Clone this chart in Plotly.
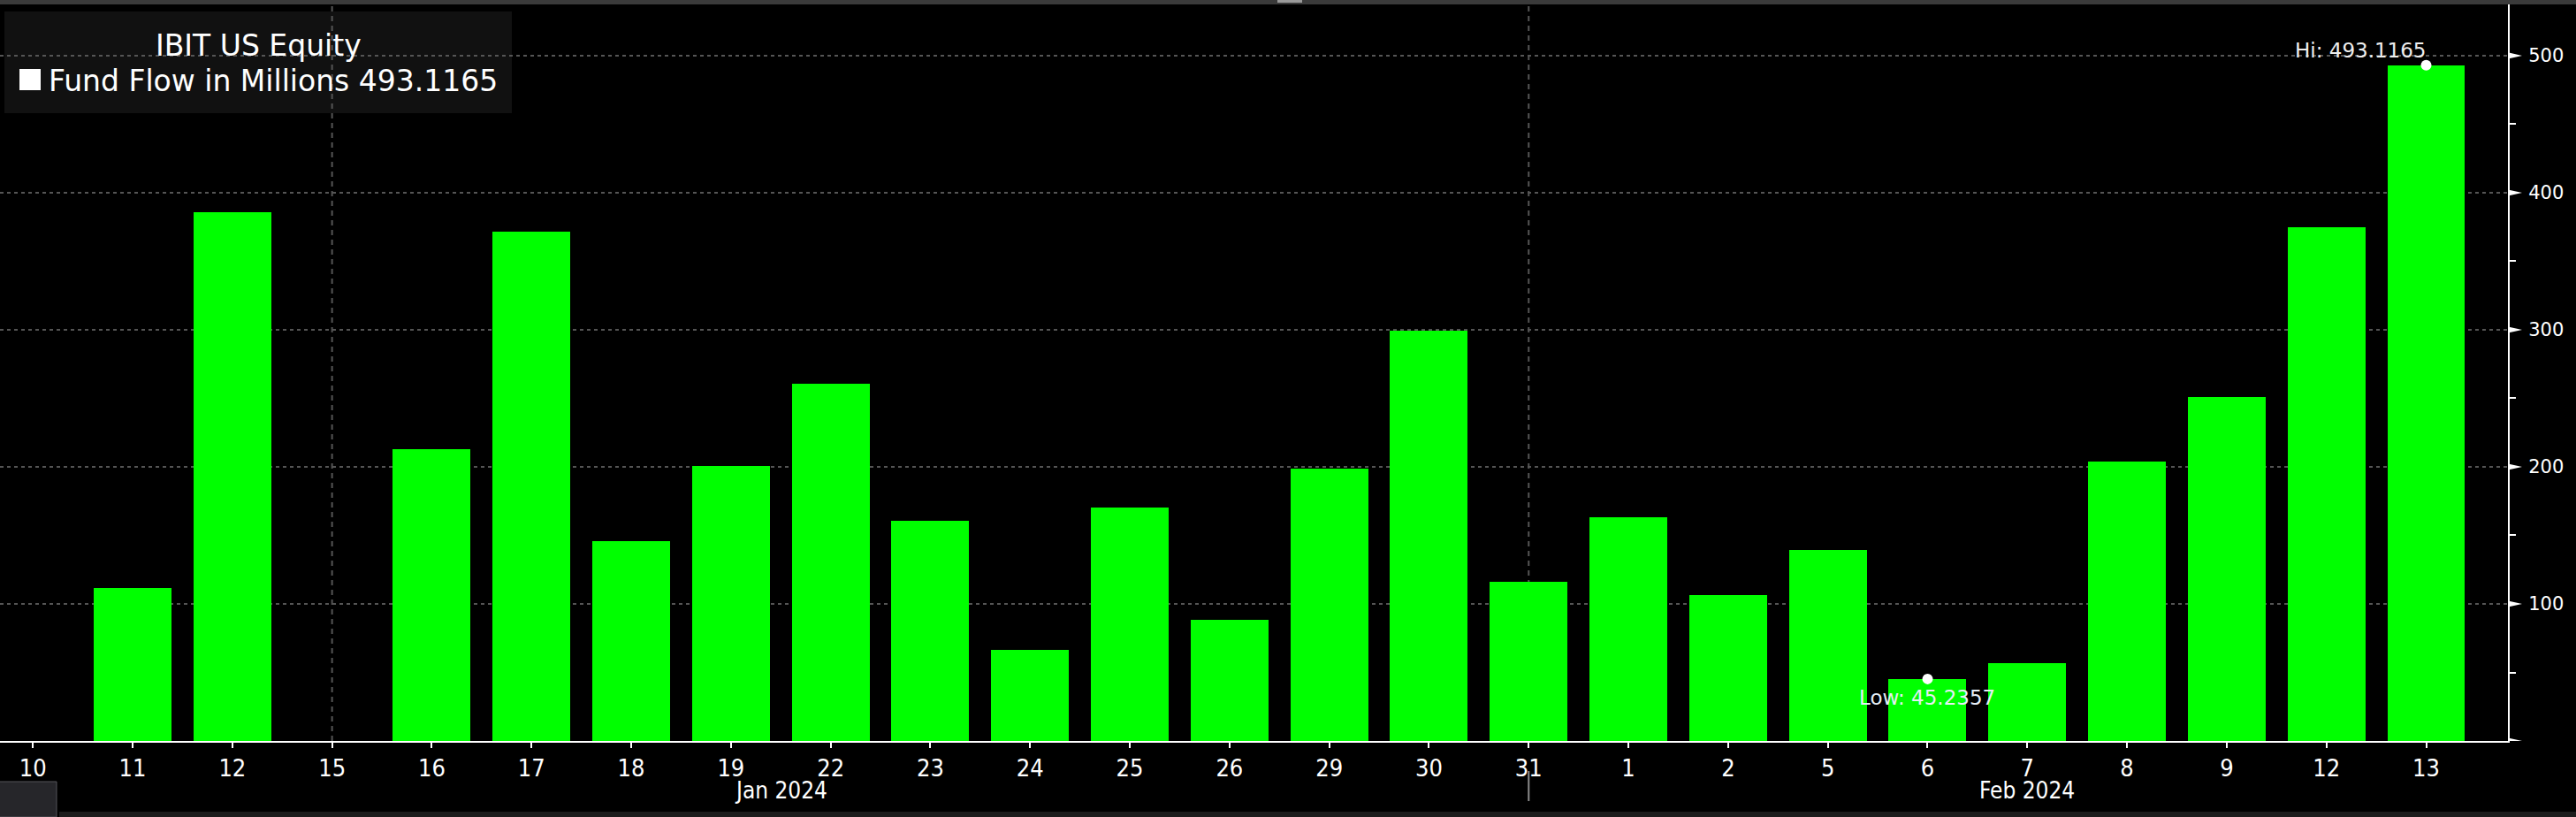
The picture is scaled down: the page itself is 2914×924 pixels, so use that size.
import plotly.graph_objects as go

# ---------------- data ----------------
dates = ["2024-01-10", "2024-01-11", "2024-01-12", "2024-01-15", "2024-01-16",
         "2024-01-17", "2024-01-18", "2024-01-19", "2024-01-22", "2024-01-23",
         "2024-01-24", "2024-01-25", "2024-01-26", "2024-01-29", "2024-01-30",
         "2024-01-31", "2024-02-01", "2024-02-02", "2024-02-05", "2024-02-06",
         "2024-02-07", "2024-02-08", "2024-02-09", "2024-02-12", "2024-02-13"]
tick_labels = ["10", "11", "12", "15", "16", "17", "18", "19", "22", "23", "24", "25",
               "26", "29", "30", "31", "1", "2", "5", "6", "7", "8", "9", "12", "13"]
flows = [None, 111.7, 386.0, None, 212.8, 371.9, 145.6, 200.8, 260.8, 160.5,
         66.3, 170.5, 88.2, 198.8, 299.5, 116.4, 163.3, 106.3, 139.4, 45.2357,
         56.8, 204.1, 251.2, 374.7, 493.1165]
months = ["Jan 2024", "Feb 2024"]
month_keys = ["2024-01", "2024-02"]
y_ticks = [100, 200, 300, 400, 500]
y_minor = [50, 150, 250, 350, 450]
grid_dates = ["2024-01-15", "2024-01-31"]
series_title = "IBIT US Equity"
series_name = "Fund Flow in Millions"

# ---------------- geometry helpers ----------------
W, H = 2914, 924
ML, MR, MT, MB = 0, 77, 5, 86
PW, PH = W - ML - MR, H - MT - MB
Y_TOP = 537.4
NARROW = "Liberation Sans Narrow, Arial Narrow, DejaVu Sans Condensed, sans-serif"


def px_x(p):
    return (p - ML) / PW


def px_y(p):
    return (H - MB - p) / PH


idx = list(range(len(dates)))
valid = [(i, v) for i, v in zip(idx, flows) if v is not None]
hi_i, hi_v = max(valid, key=lambda t: t[1])
lo_i, lo_v = min(valid, key=lambda t: t[1])
last_v = valid[-1][1]

fig = go.Figure()
fig.add_trace(go.Bar(x=idx, y=flows, marker=dict(color="#00ff00", line=dict(width=0)),
                     width=0.78, showlegend=False, hoverinfo="y"))
fig.add_trace(go.Scatter(x=[hi_i, lo_i], y=[hi_v, lo_v], mode="markers",
                         marker=dict(color="white", size=12), showlegend=False,
                         hoverinfo="skip"))

shapes = []
# top & bottom window strips
shapes.append(dict(type="rect", xref="paper", yref="paper", x0=px_x(0), x1=px_x(W),
                   y0=px_y(5), y1=px_y(0), fillcolor="#3a3a3a", line=dict(width=0)))
shapes.append(dict(type="rect", xref="paper", yref="paper", x0=px_x(1445), x1=px_x(1473),
                   y0=px_y(3), y1=px_y(0), fillcolor="#9a9a9a", line=dict(width=0)))
shapes.append(dict(type="rect", xref="paper", yref="paper", x0=px_x(67), x1=px_x(W),
                   y0=px_y(924), y1=px_y(918), fillcolor="#1c1c1c", line=dict(width=0)))
shapes.append(dict(type="rect", xref="paper", yref="paper", x0=px_x(-5), x1=px_x(64),
                   y0=px_y(924), y1=px_y(884), fillcolor="#26262a",
                   line=dict(color="#55555a", width=1)))
# legend box
shapes.append(dict(type="rect", xref="paper", yref="paper", x0=px_x(5), x1=px_x(579),
                   y0=px_y(128), y1=px_y(13), fillcolor="#111111", line=dict(width=0),
                   layer="below"))
shapes.append(dict(type="rect", xref="paper", yref="paper", x0=px_x(22), x1=px_x(46),
                   y0=px_y(102), y1=px_y(78), fillcolor="white", line=dict(width=0)))
# vertical dashed gridlines
for d in grid_dates:
    gx = dates.index(d)
    shapes.append(dict(type="line", xref="x", yref="paper", x0=gx, x1=gx, y0=0, y1=1,
                       line=dict(color="#555555", width=2, dash="6px,5px"), layer="below"))
# month separator below axis (last day of first month)
sep = max(i for i, d in enumerate(dates) if d.startswith(month_keys[0]))
shapes.append(dict(type="line", xref="x", yref="paper", x0=sep, x1=sep,
                   y0=px_y(872), y1=px_y(906), line=dict(color="#8a8a8a", width=2)))
# y-axis triangle ticks
dy = 3.6 * Y_TOP / PH
for v in [0] + y_ticks:
    shapes.append(dict(type="path", xref="paper", yref="y",
                       path=f"M 1,{v + dy} L {1 + 16 / PW},{v} L 1,{v - dy} Z",
                       fillcolor="white", line=dict(width=0)))

annotations = []
annotations.append(dict(xref="paper", yref="paper", x=px_x(292), y=px_y(51),
                        text=series_title, showarrow=False, xanchor="center",
                        yanchor="middle", font=dict(family="DejaVu Sans", size=33, color="white")))
annotations.append(dict(xref="paper", yref="paper", x=px_x(53), y=px_y(91),
                        text=f"{series_name} {last_v:.4f}", showarrow=False, xanchor="left",
                        yanchor="middle", font=dict(family="DejaVu Sans", size=33, color="white")))
annotations.append(dict(xref="x", yref="y", x=hi_i, y=hi_v, text=f"Hi: {hi_v:.4f}",
                        showarrow=False, xanchor="right", yanchor="bottom", xshift=2, yshift=2,
                        font=dict(family="DejaVu Sans", size=23, color="#eeeeee")))
annotations.append(dict(xref="x", yref="y", x=lo_i, y=lo_v, text=f"Low: {lo_v:.4f}",
                        showarrow=False, xanchor="center", yanchor="top", xshift=0, yshift=-6,
                        font=dict(family="DejaVu Sans", size=23, color="#e6eef6")))
for m, key in zip(months, month_keys):
    ids = [i for i, d in enumerate(dates) if d.startswith(key)]
    annotations.append(dict(xref="x", yref="paper", x=sum(ids) / len(ids), y=px_y(894),
                            text=m, showarrow=False, xanchor="center", yanchor="middle",
                            font=dict(family=NARROW, size=26, color="white")))

fig.update_layout(
    width=W, height=H, autosize=False,
    margin=dict(l=ML, r=MR, t=MT, b=MB, pad=0),
    paper_bgcolor="black", plot_bgcolor="black",
    bargap=0, showlegend=False,
    shapes=shapes, annotations=annotations,
    xaxis=dict(range=[-0.33, 24.82], tickmode="array", tickvals=idx, ticktext=tick_labels,
               showgrid=False, zeroline=False, showline=True, linecolor="white", linewidth=2,
               ticks="outside", ticklen=6, tickwidth=2, tickcolor="white",
               tickfont=dict(family=NARROW, size=27, color="white"), fixedrange=True),
    yaxis=dict(range=[0, Y_TOP], side="right", tickmode="array", tickvals=y_ticks,
               showgrid=True, gridcolor="#555555", gridwidth=2, griddash="4px,4px",
               zeroline=False, showline=True, linecolor="white", linewidth=2,
               ticks="outside", ticklen=17, tickcolor="rgba(0,0,0,0)",
               tickfont=dict(family="DejaVu Sans", size=21, color="white"),
               minor=dict(tickvals=y_minor, ticks="outside", ticklen=7, tickwidth=2,
                          tickcolor="white", showgrid=False)),
)

fig.write_html(
    "out.html",
    config={"displayModeBar": False},
    post_script=("document.documentElement.style.margin='0';"
                 "document.body.style.margin='0';"
                 "document.body.style.background='black';"
                 "document.body.style.overflow='hidden';"),
)
